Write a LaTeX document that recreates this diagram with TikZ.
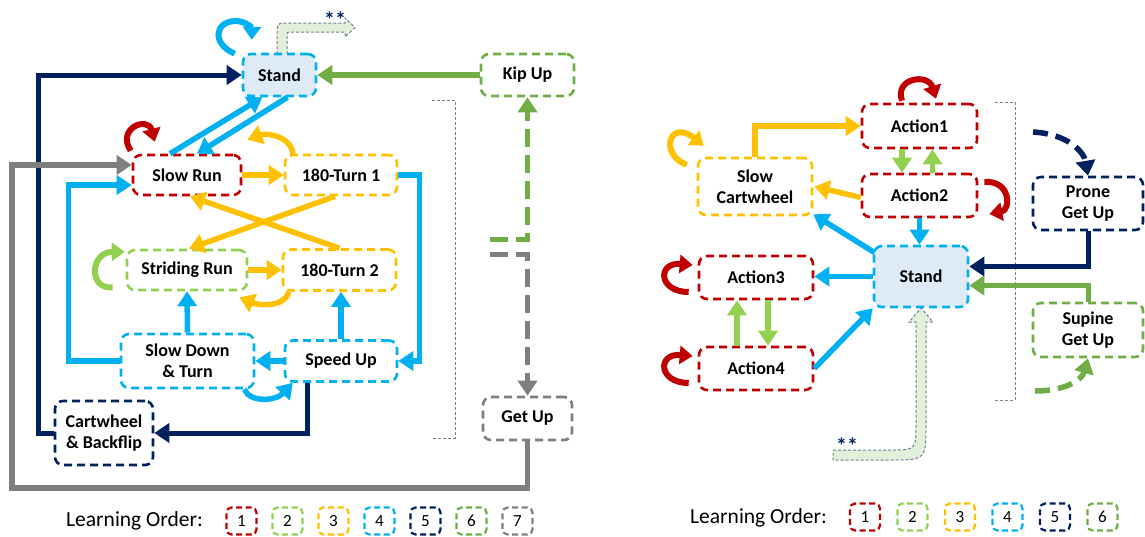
\documentclass[tikz,border=0pt]{standalone}
\usepackage{fontspec}
\setmainfont{Carlito}
\usetikzlibrary{arrows.meta}
\definecolor{cred}{HTML}{C00000}
\definecolor{clg}{HTML}{92D050}
\definecolor{cor}{HTML}{FFC000}
\definecolor{ccy}{HTML}{00B0F0}
\definecolor{cnv}{HTML}{002060}
\definecolor{cgr}{HTML}{70AD47}
\definecolor{cgy}{HTML}{7F7F7F}
\definecolor{cstand}{HTML}{DEEBF7}
\definecolor{cstar}{HTML}{E2F0D9}
\definecolor{cstarline}{HTML}{6F7F92}
\begin{document}
\begin{tikzpicture}[x=1pt,y=-1pt,
  box/.style={draw, fill=white, line width=2.6pt, dash pattern=on 8pt off 5pt, rounded corners=8pt, align=center, inner sep=0pt, font=\bfseries\fontsize{18}{21}\selectfont},
  arr/.style={line width=5.5pt, -{Triangle[length=15pt,width=19pt]}},
  lp/.style={line width=6pt, -{Triangle[length=13pt,width=18pt]}},
  dsh/.style={dash pattern=on 18pt off 8pt},
  brk/.style={draw=cgy, line width=1pt, dash pattern=on 3pt off 2pt},
  star/.style={fill=cstar, draw=cstarline, line width=1pt, dash pattern=on 3pt off 2pt},
  startxt/.style={text=cnv, font=\bfseries\fontsize{22}{24}\selectfont, inner sep=0pt},
  leg/.style={draw, line width=2.2pt, dash pattern=on 6pt off 3.5pt, rounded corners=5pt, minimum width=30pt, minimum height=27pt, inner sep=0pt, font=\fontsize{17}{20}\selectfont},
  legt/.style={font=\fontsize{21.5}{24}\selectfont, inner sep=0pt}
]
\useasboundingbox (0,0) rectangle (1145,536);

% ---------- decorative ** arrows (under nodes)
\filldraw[star] (277,54) -- (277,35) .. controls (277,23) .. (289,23) -- (345,23) -- (345,18) -- (355,27.5) -- (345,37) -- (345,32) -- (292,32) .. controls (287,32) .. (287,37) -- (287,54);
\node[startxt] (starL) at (335,20) {**};
\filldraw[star] (833,450) -- (890,450) .. controls (916,450) .. (916,424) -- (916,322) -- (909,322) -- (921,308) -- (933,322) -- (926,322) -- (926,424) .. controls (926,460) .. (890,460) -- (833,460) -- cycle;
\node[startxt] (starR) at (847,446) {**};

% ---------- brackets
\draw[brk] (432,100) -- (455,100) -- (455,438) -- (432,438);
\draw[brk] (995,102) -- (1015,102) -- (1015,400) -- (995,400);

% ---------- left nodes
\node[box, draw=ccy, fill=cstand, minimum width=73pt, minimum height=42pt] (st) at (279.5,75) {Stand};
\node[box, draw=cgr, minimum width=93pt, minimum height=42pt] (ku) at (527.5,75) {Kip Up};
\node[box, draw=cred, minimum width=108pt, minimum height=40pt] (sr) at (187,175) {Slow Run};
\node[box, draw=cor, minimum width=112pt, minimum height=40pt] (t1) at (341,175) {180-Turn 1};
\node[box, draw=clg, minimum width=120pt, minimum height=40pt] (sd) at (187,270) {Striding Run};
\node[box, draw=cor, minimum width=113pt, minimum height=41pt] (t2) at (339.5,270) {180-Turn 2};
\node[box, draw=ccy, minimum width=133pt, minimum height=54pt] (sw) at (187.5,361) {Slow Down\\\& Turn};
\node[box, draw=ccy, minimum width=112pt, minimum height=41pt] (su) at (341,361) {Speed Up};
\node[box, draw=cnv, minimum width=98pt, minimum height=64pt] (cb) at (104,433) {Cartwheel\\\& Backflip};
\node[box, draw=cgy, minimum width=89pt, minimum height=43pt] (gu) at (527.5,418.5) {Get Up};

% ---------- left connectors
\draw[arr, cnv, line width=5pt] (cb.west) -- ++(-15,0) |- (st.west);
\draw[arr, cgr] (ku.west) -- (st.east);
\draw[arr, ccy] ([xshift=-17pt]sr.north) -- ([xshift=-17pt]st.south);
\draw[arr, ccy] ([xshift=8pt]st.south) -- ([xshift=10pt]sr.north);
\draw[arr, cgy] (gu.south) |- (12,488) |- ([yshift=10pt]sr.west);
\draw[arr, ccy] (sw.west) -- ++(-51,0) |- ([yshift=-10pt]sr.west);
\draw[arr, cor] (sr.east) -- (t1.west);
\draw[arr, cor] ([xshift=-48pt]t1.north) .. controls (290,135) and (266,133) .. ([xshift=5pt,yshift=14pt]sr.north east);
\draw[arr, cor] ([xshift=-6pt]t1.south) -- ([xshift=2pt]sd.north);
\draw[arr, cor] (t2.north) -- ([xshift=3pt]sr.south);
\draw[arr, ccy] (t1.east) -- ++(21,0) |- (su.east);
\draw[arr, cor] (sd.east) -- (t2.west);
\draw[arr, cor] ([xshift=7pt]t2.south west) .. controls (285,307) and (260,306) .. ([xshift=-9pt,yshift=-6pt]sd.south east);
\draw[lp, clg] ([xshift=-13pt,yshift=4pt]sd.south west) .. controls (88,290) and (90,252) .. ([xshift=-1pt,yshift=-3pt]sd.north west);
\draw[arr, ccy] (sw.north) -- (sd.south);
\draw[arr, ccy] (su.north) -- (su.north |- t2.south);
\draw[arr, ccy] (su.west) -- (sw.east);
\draw[arr, ccy] ([xshift=-11pt]sw.south east) .. controls (250,403) and (276,401) .. ([xshift=9pt]su.south west);
\draw[arr, cnv, line width=5pt] ([xshift=-34pt]su.south) |- (cb.east);
\coordinate (g1) at (490,239);
\coordinate (gy1) at (490,254);
\draw[arr, cgr, dsh, line width=5pt] (g1) -| (ku.south);
\draw[arr, cgy, dsh, line width=5pt] (gy1) -| (gu.north);
\draw[lp, ccy] ([xshift=-7pt,yshift=-1pt]st.north west) .. controls (212,44) and (214,22) .. (235,21) .. controls (246,21) and (252,28) .. ([xshift=10pt,yshift=13pt]st.north west);
\draw[lp, cred] ([xshift=-1pt,yshift=3pt]sr.north west) .. controls (116,128) and (148,116) .. ([xshift=23pt,yshift=12pt]sr.north west);

% ---------- right nodes
\node[box, draw=cred, minimum width=115pt, minimum height=44pt] (a1) at (919.5,126) {Action1};
\node[box, draw=cred, minimum width=115pt, minimum height=43pt] (a2) at (919.5,195.5) {Action2};
\node[box, draw=cor, minimum width=114pt, minimum height=57pt] (sc) at (755,186.5) {Slow\\Cartwheel};
\node[box, draw=cnv, minimum width=110pt, minimum height=53pt] (pg) at (1088,203.5) {Prone\\Get Up};
\node[box, draw=ccy, fill=cstand, minimum width=94pt, minimum height=61pt] (st2) at (921,276.5) {Stand};
\node[box, draw=cred, minimum width=114pt, minimum height=43pt] (a3) at (756,277.5) {Action3};
\node[box, draw=cred, minimum width=114pt, minimum height=43pt] (a4) at (756,368.5) {Action4};
\node[box, draw=cgr, minimum width=110pt, minimum height=54pt] (sg) at (1088,330) {Supine\\Get Up};

% ---------- right connectors
\draw[arr, clg] ([xshift=-17.5pt]a1.south) -- ([xshift=-17.5pt]a2.north);
\draw[arr, clg] ([xshift=13pt]a2.north) -- ([xshift=13pt]a1.south);
\draw[arr, ccy] (a2.south) -- (a2.south |- st2.north);
\draw[arr, cor] (sc.north) |- (a1.west);
\draw[arr, cor] ([yshift=-2pt]a2.west) -- ([xshift=1pt]sc.east);
\draw[arr, ccy] ([xshift=2pt,yshift=-8pt]st2.north west) -- ([yshift=2pt]sc.south east);
\draw[arr, ccy] (st2.west) -- (st2.west -| a3.east);
\draw[arr, ccy] (a4.east) -- (st2.south west);
\draw[arr, clg] ([xshift=-19pt]a4.north) -- ([xshift=-19pt]a3.south);
\draw[arr, clg] ([xshift=12pt]a3.south) -- ([xshift=12pt]a4.north);
\draw[arr, cnv, line width=5pt] (pg.south) |- ([yshift=10pt]st2.east);
\draw[arr, cgr, line width=5pt] (sg.north) |- ([yshift=-9pt]st2.east);
\coordinate (n1) at (1033,132);
\coordinate (g2) at (1035,391);
\draw[arr, cnv, line width=5.5pt, dash pattern=on 15pt off 8pt] (n1) .. controls (1068,134) and (1084,152) .. (pg.north);
\draw[arr, cgr, line width=5.5pt, dash pattern=on 15pt off 8pt] (g2) .. controls (1065,391) and (1082,380) .. (sg.south);
\draw[lp, cred] ([xshift=-17.5pt,yshift=2pt]a1.north) .. controls (894,78) and (928,73) .. ([xshift=16.5pt,yshift=4pt]a1.north);
\draw[lp, cred] ([xshift=6pt,yshift=13.5pt]a2.east) .. controls (1011,180) and (1011,210) .. ([xshift=11pt,yshift=-18.5pt]a2.east);
\draw[lp, cor] ([xshift=-10pt,yshift=-8pt]sc.north west) .. controls (659,155) and (669,118) .. ([xshift=7pt,yshift=11pt]sc.north west);
\draw[lp, cred] ([xshift=-9pt,yshift=-14.5pt]a3.west) .. controls (658,292) and (657,262) .. ([xshift=-5pt,yshift=12.5pt]a3.west);
\draw[lp, cred] ([xshift=-9pt,yshift=-14.5pt]a4.west) .. controls (658,383) and (657,353) .. ([xshift=-5pt,yshift=12.5pt]a4.west);

% ---------- legends
\node[legt, anchor=west] (lgL) at (66,521) {Learning Order:};
\node[leg, draw=cred] (l1) at (241.5,521) {1};
\node[leg, draw=clg] (l2) at (287.5,521) {2};
\node[leg, draw=cor] (l3) at (333.5,521) {3};
\node[leg, draw=ccy] (l4) at (379.5,521) {4};
\node[leg, draw=cnv] (l5) at (425.5,521) {5};
\node[leg, draw=cgr] (l6) at (471.5,521) {6};
\node[leg, draw=cgy] (l7) at (517.5,521) {7};

\node[legt, anchor=west] (lgR) at (690,518) {Learning Order:};
\node[leg, draw=cred] (r1) at (865,517) {1};
\node[leg, draw=clg] (r2) at (912.5,517) {2};
\node[leg, draw=cor] (r3) at (960,517) {3};
\node[leg, draw=ccy] (r4) at (1007.5,517) {4};
\node[leg, draw=cnv] (r5) at (1055,517) {5};
\node[leg, draw=cgr] (r6) at (1102.5,517) {6};
\end{tikzpicture}
\end{document}
